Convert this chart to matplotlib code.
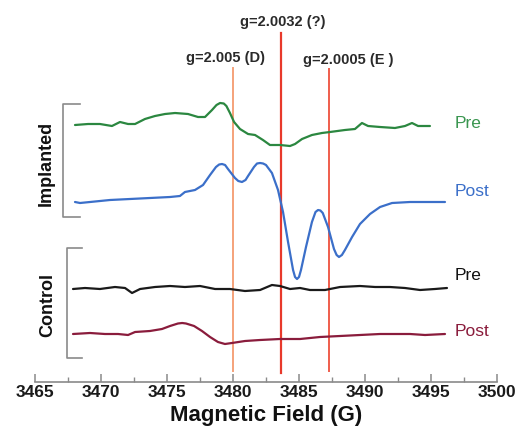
import matplotlib
matplotlib.use("Agg")
import matplotlib.pyplot as plt
from matplotlib.ticker import MultipleLocator

plt.rcParams['font.family'] = ['Liberation Sans', 'DejaVu Sans']

# ---------------- data (field in G, signal in arbitrary units) ----------------
impl_pre_field = [3468.03, 3469.02, 3469.92, 3470.83, 3471.44, 3472.05, 3472.58, 3473.33,
                  3474.09, 3474.85, 3475.61, 3476.59, 3477.35, 3477.88, 3478.41, 3478.75,
                  3479.02, 3479.30, 3479.50, 3479.77, 3480.08, 3480.53, 3481.14, 3481.67,
                  3482.27, 3482.80, 3483.56, 3484.32, 3484.70, 3485.23, 3485.98, 3486.74,
                  3487.35, 3488.48, 3489.24, 3489.77, 3490.23, 3491.14, 3492.27, 3493.03,
                  3493.56, 3494.02, 3494.92]
impl_pre_signal = [0, 1, 1, -1, 3, 1, 1, 6, 9, 11, 12, 11, 8, 8, 15, 20,
                   22, 21.5, 19, 12, 3, -4, -9, -10, -15, -20, -20, -21, -19, -14, -10, -8,
                   -7, -5, -4, 2, -1, -2, -3, -1, 2, -1, -1]

impl_post_field = [3468.03, 3468.41, 3469.17, 3470.68, 3472.20, 3473.71, 3475.23, 3475.98,
                   3476.36, 3477.12, 3477.73, 3478.26, 3478.71, 3478.95, 3479.17, 3479.40,
                   3479.62, 3480.15, 3480.40, 3480.68, 3480.95, 3481.14, 3481.59, 3481.82,
                   3482.05, 3482.28, 3482.50, 3482.95, 3483.41, 3483.79, 3484.17, 3484.55,
                   3484.70, 3484.85, 3485.00, 3485.15, 3485.53, 3485.98, 3486.25, 3486.44,
                   3486.62, 3486.80, 3487.20, 3487.65, 3487.85, 3488.03, 3488.25, 3488.48,
                   3489.02, 3489.62, 3490.38, 3491.14, 3492.05, 3493.41, 3494.92, 3496.06]
impl_post_signal = [0, -1, 0, 2, 3, 4, 5, 6, 10, 12, 17, 27, 35, 37.5, 38, 37,
                    33, 24, 21, 20, 22, 26, 35, 38.5, 39, 38.5, 37, 29, 12, -10, -40, -68,
                    -75, -77, -75, -68, -45, -20, -10, -8, -8.5, -11, -25, -47, -53, -55, -53, -48,
                    -35, -22, -12, -5, -1, 0, 0, 0]

ctrl_pre_field = [3467.88, 3468.79, 3469.92, 3471.06, 3471.82, 3472.35, 3472.96, 3474.09,
                  3475.23, 3476.36, 3477.50, 3478.64, 3479.77, 3480.91, 3482.05, 3482.95,
                  3483.56, 3484.32, 3485.08, 3485.83, 3486.97, 3488.11, 3489.62, 3490.76,
                  3491.89, 3493.03, 3494.17, 3495.30, 3496.21]
ctrl_pre_signal = [0, 1, 0, 2, 1, -4, 0, 2, 3, 2, 3, 0, 0, -2, -1, 4,
                   3, 0, 1, -1, -1, 2, 3, 2, 2, 1, -1, 0, 1]

ctrl_post_field = [3467.88, 3469.17, 3470.30, 3471.29, 3472.05, 3472.58, 3473.71, 3474.62,
                   3475.23, 3475.83, 3476.15, 3476.44, 3477.05, 3477.65, 3478.26, 3478.86,
                   3479.39, 3479.92, 3480.91, 3482.05, 3483.56, 3485.08, 3486.59, 3488.11,
                   3489.62, 3491.14, 3492.27, 3493.41, 3494.55, 3496.06]
ctrl_post_signal = [0, 1, 0, 0, -1, 2, 3, 5, 8, 10.5, 11, 10.5, 8, 3, -3, -8,
                    -10, -9, -7, -6, -5, -5, -3, -2, -1, 0, 0, 0, -1, 0]

g_fields = [3480.0, 3483.6, 3487.3]
g_labels = ['g=2.005 (D)', 'g=2.0032 (?)', 'g=2.0005 (E )']
trace_labels = ['Pre', 'Post', 'Pre', 'Post']
group_labels = ['Implanted', 'Control']
x_ticks = [3465, 3470, 3475, 3480, 3485, 3490, 3495, 3500]

# ---------------- layout / style ----------------
W, H = 528, 441
fig = plt.figure(figsize=(W / 100, H / 100), dpi=100)
ax_left, ax_right, ax_bottom_px = 35, 497, 382
ax = fig.add_axes([ax_left / W, (H - ax_bottom_px) / H, (ax_right - ax_left) / W, ax_bottom_px / H])
ax.set_xlim(3465, 3500)
ax.set_ylim(0, ax_bottom_px)

offsets = [257, 180, 93, 48]
colors = ['#2b8740', '#3b6fc9', '#1a1a1a', '#8a1c3c']
label_colors = ['#3a9650', '#3b6fc9', '#111111', '#8a1c3c']
label_y = [258, 190, 107, 50]

series = [(impl_pre_field, impl_pre_signal), (impl_post_field, impl_post_signal),
          (ctrl_pre_field, ctrl_pre_signal), (ctrl_post_field, ctrl_post_signal)]
for (fx, sy), off, c in zip(series, offsets, colors):
    ax.plot(fx, [off + s for s in sy], color=c, lw=1.6, solid_joinstyle='round',
            solid_capstyle='round', zorder=3)

for lab, ly, c in zip(trace_labels, label_y, label_colors):
    ax.text(3496.8, ly, lab, color=c, fontsize=12.5, ha='left', va='center')

# g-value lines
line_colors = ['#f5a27a', '#e8392b', '#ef5d4c']
line_widths = [1.4, 1.6, 1.4]
line_spans = [(11, 314), (9, 349), (11, 313)]
for gx, c, lw, (y0, y1) in zip(g_fields, line_colors, line_widths, line_spans):
    ax.plot([gx, gx], [y0, y1], color=c, lw=lw, zorder=2)
label_pos = [(3479.4, 324), (3483.8, 360), (3488.7, 322)]
for lab, (lx, ly) in zip(g_labels, label_pos):
    ax.text(lx, ly, lab, fontsize=10.5, fontweight='bold', ha='center', va='center',
            color='#2a2a2a')

# group brackets
brackets = [(3467.12, 165, 278, 3468.4), (3467.42, 24, 134, 3468.56)]
for bx, y0, y1, bx2 in brackets:
    ax.plot([bx2, bx, bx, bx2], [y0, y0, y1, y1], color='#8a8a8a', lw=1.2,
            clip_on=False, zorder=2)
ax.text(3465.85, 219, group_labels[0], rotation=90, fontsize=13, fontweight='bold',
        ha='center', va='center', color='#111111')
ax.text(3465.95, 77, group_labels[1], rotation=90, fontsize=13, fontweight='bold',
        ha='center', va='center', color='#111111')

# axis
for s in ['left', 'right', 'top']:
    ax.spines[s].set_visible(False)
ax.spines['bottom'].set_color('#8a8a8a')
ax.spines['bottom'].set_linewidth(1.2)
ax.set_yticks([])
ax.set_xticks(x_ticks)
ax.set_xticklabels([str(t) for t in x_ticks], fontweight='bold')
ax.xaxis.set_minor_locator(MultipleLocator(2.5))
ax.tick_params(axis='x', which='major', direction='in', length=6, width=1.1,
               color='#8a8a8a', labelsize=12.5, pad=2, labelcolor='#1a1a1a')
ax.tick_params(axis='x', which='minor', direction='in', length=3.5, width=1.0,
               color='#8a8a8a')
ax.set_xlabel('Magnetic Field (G)', fontsize=16, fontweight='bold', labelpad=4,
              color='#111111')
ax.patch.set_alpha(0)

fig.savefig('out.png', dpi=100)
